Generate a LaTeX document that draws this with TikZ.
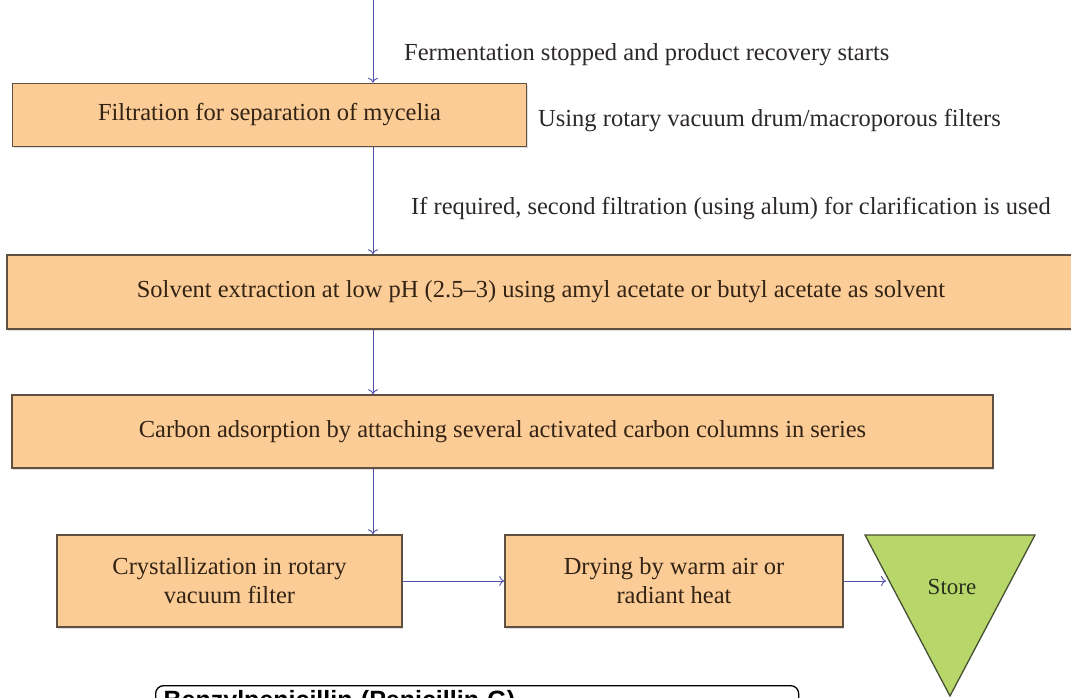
\documentclass[tikz,border=0pt]{standalone}
\usepackage{fontspec}
\setmainfont{Liberation Serif}
\setsansfont{Liberation Sans}
\usetikzlibrary{arrows.meta,shadows}

\definecolor{peach}{RGB}{252,204,150}
\definecolor{boxline}{RGB}{95,80,65}
\definecolor{boxtext}{RGB}{50,35,20}
\definecolor{flowblue}{RGB}{80,80,170}
\definecolor{notetext}{RGB}{45,40,40}
\definecolor{storegreen}{RGB}{183,215,106}
\definecolor{storeline}{RGB}{70,80,50}

\begin{document}
\begin{tikzpicture}[x=1pt,y=-1pt,
  box/.style={draw=boxline,line width=1.5pt,fill=peach,text=boxtext,
    font=\fontsize{24.5}{29}\selectfont,align=center,inner sep=0pt,
    drop shadow={opacity=0.25,shadow xshift=1pt,shadow yshift=-2pt}},
  flow/.style={draw=flowblue,line width=0.9pt,-{To[length=5pt,width=10pt]}},
  note/.style={anchor=west,text=notetext,font=\fontsize{24.5}{29}\selectfont,inner sep=0pt},
  penbox/.style={draw=black,line width=1.3pt,rounded corners=8pt,fill=white,
    font=\sffamily\bfseries\fontsize{25}{30}\selectfont,align=left,
    text width=627pt,text depth=40pt,inner xsep=8pt,inner ysep=5pt}]
  \def\ax{373}  % x of the main vertical flow line
  \useasboundingbox (0,0) rectangle (1071,698);
  \clip (0,0) rectangle (1071,698);

  % process boxes
  \node[box,minimum width=514,minimum height=63] (filt) at (269.5,115) {Filtration for separation of mycelia};
  \node[box,minimum width=1068,minimum height=74] (solv) at (541,292) {Solvent extraction at low pH (2.5--3) using amyl acetate or butyl acetate as solvent};
  \node[box,minimum width=981,minimum height=73] (carb) at (502.5,431.5) {Carbon adsorption by attaching several activated carbon columns in series};
  \node[box,minimum width=345,minimum height=92] (cryst) at (229.5,581) {Crystallization in rotary\\vacuum filter};
  \node[box,minimum width=338,minimum height=92] (dry) at (674,581) {Drying by warm air or\\radiant heat};

  % store triangle
  \coordinate (tl) at (865,535);
  \coordinate (tr) at (1035,535);
  \coordinate (tip) at (950,696);
  \filldraw[fill=storegreen,draw=storeline,line width=1.3pt] (tl) -- (tr) -- (tip) -- cycle;
  \node[text=storeline!60!black,font=\fontsize{23}{28}\selectfont] (store) at (952,587) {Store};
  \coordinate (storein) at (886,581);

  % side notes
  \node[note] (nstop) at (404,55) {Fermentation stopped and product recovery starts};
  \node[note] (nrot) at (538,121) {Using rotary vacuum drum/macroporous filters};
  \node[note] (nalum) at (411,209) {If required, second filtration (using alum) for clarification is used};

  % arrows
  \coordinate (ferm) at (\ax,-5);
  \draw[flow] (ferm) -- (ferm |- filt.north);
  \draw[flow] (filt.south -| ferm) -- (solv.north -| ferm);
  \draw[flow] (solv.south -| ferm) -- (carb.north -| ferm);
  \draw[flow] (carb.south -| ferm) -- (cryst.north -| ferm);
  \draw[flow] (cryst.east) -- (dry.west);
  \draw[flow] (dry.east) -- (storein);

  % product box, cut at the bottom
  \node[penbox,anchor=north west] (pen) at (155,685) {Benzylpenicillin (Penicillin G)};
\end{tikzpicture}
\end{document}
